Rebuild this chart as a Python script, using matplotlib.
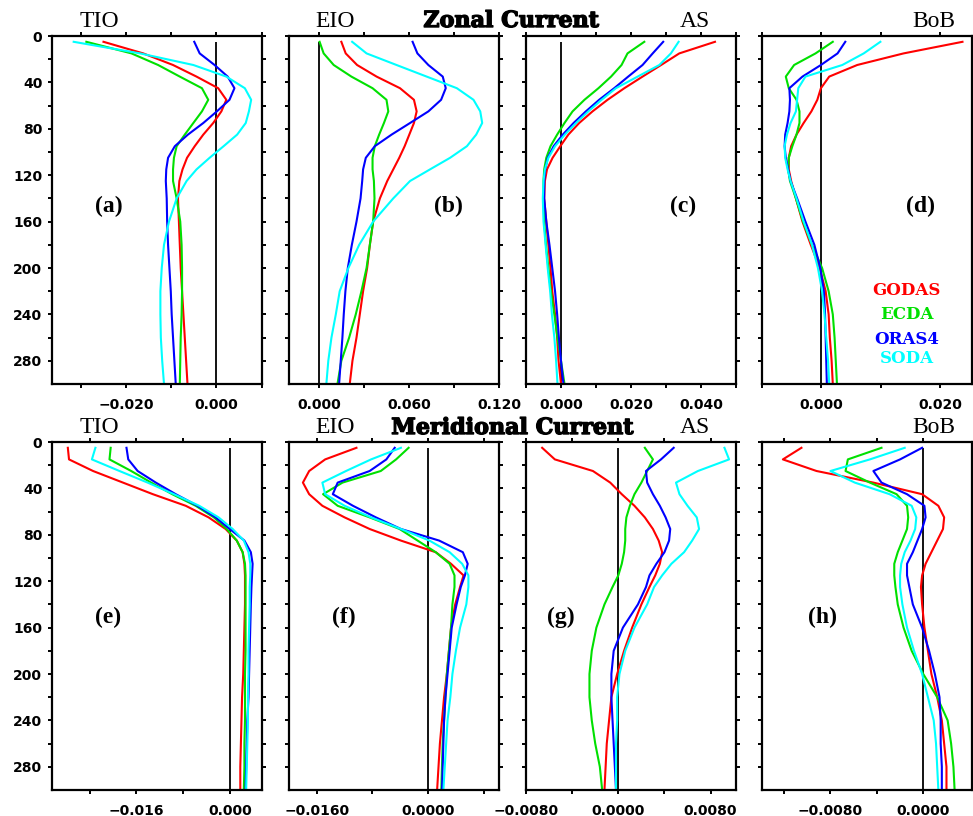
import matplotlib
matplotlib.use("Agg")
import matplotlib.pyplot as plt
import matplotlib.patheffects as pe
import numpy as np

# Depth levels (m)
depth = [5, 15, 25, 35, 45, 55, 65, 75, 85, 95, 105, 115, 125,
         140, 160, 180, 200, 220, 240, 260, 280, 300]

products = ["GODAS", "ECDA", "ORAS4", "SODA"]
colors = ["#ff0000", "#00e000", "#0000ff", "#00ffff"]

# ---- Zonal current ----
u_tio_godas = [-0.0250, -0.0162, -0.0096, -0.0044, 0.0004, 0.0022, 0.0011, -0.0007, -0.0029, -0.0048, -0.0065,
               -0.0075, -0.0082, -0.0085, -0.0083, -0.0081, -0.0079, -0.0076, -0.0073, -0.0070, -0.0067, -0.0064]
u_tio_ecda = [-0.0288, -0.0188, -0.0129, -0.0081, -0.0032, -0.0018, -0.0032, -0.0051, -0.0070, -0.0088, -0.0094,
              -0.0096, -0.0096, -0.0088, -0.0080, -0.0077, -0.0076, -0.0076, -0.0077, -0.0079, -0.0080, -0.0081]
u_tio_oras4 = [-0.0049, -0.0037, -0.0004, 0.0025, 0.0040, 0.0029, 0.0001, -0.0029, -0.0063, -0.0092, -0.0107,
               -0.0111, -0.0112, -0.0110, -0.0109, -0.0107, -0.0104, -0.0101, -0.0099, -0.0096, -0.0093, -0.0090]
u_tio_soda = [-0.0316, -0.0169, -0.0051, 0.0022, 0.0063, 0.0077, 0.0072, 0.0065, 0.0046, 0.0016, -0.0015,
              -0.0044, -0.0066, -0.0088, -0.0105, -0.0116, -0.0121, -0.0124, -0.0124, -0.0123, -0.0120, -0.0116]

u_eio_godas = [0.0149, 0.0178, 0.0254, 0.0384, 0.0540, 0.0633, 0.0651, 0.0633, 0.0602, 0.0571, 0.0535,
               0.0495, 0.0455, 0.0406, 0.0361, 0.0339, 0.0321, 0.0294, 0.0272, 0.0250, 0.0223, 0.0205]
u_eio_ecda = [0.0004, 0.0031, 0.0098, 0.0216, 0.0357, 0.0450, 0.0462, 0.0433, 0.0401, 0.0372, 0.0357,
              0.0357, 0.0366, 0.0370, 0.0361, 0.0339, 0.0317, 0.0283, 0.0245, 0.0201, 0.0149, 0.0123]
u_eio_oras4 = [0.0624, 0.0656, 0.0729, 0.0825, 0.0845, 0.0814, 0.0729, 0.0607, 0.0484, 0.0372, 0.0312,
               0.0294, 0.0288, 0.0277, 0.0250, 0.0219, 0.0192, 0.0176, 0.0165, 0.0156, 0.0145, 0.0134]
u_eio_soda = [0.0221, 0.0317, 0.0517, 0.0718, 0.0919, 0.1030, 0.1075, 0.1088, 0.1048, 0.0986, 0.0874,
              0.0740, 0.0607, 0.0495, 0.0361, 0.0268, 0.0196, 0.0138, 0.0112, 0.0083, 0.0062, 0.0049]

u_as_godas = [0.0440, 0.0338, 0.0286, 0.0233, 0.0181, 0.0133, 0.0090, 0.0052, 0.0021, -0.0002, -0.0024,
              -0.0040, -0.0046, -0.0048, -0.0042, -0.0036, -0.0030, -0.0025, -0.0017, -0.0011, -0.0007, 0.0000]
u_as_ecda = [0.0238, 0.0190, 0.0173, 0.0143, 0.0107, 0.0067, 0.0033, 0.0010, -0.0011, -0.0030, -0.0042,
             -0.0048, -0.0050, -0.0050, -0.0048, -0.0043, -0.0036, -0.0029, -0.0019, -0.0010, 0.0000, 0.0010]
u_as_oras4 = [0.0292, 0.0262, 0.0233, 0.0192, 0.0152, 0.0109, 0.0071, 0.0036, 0.0005, -0.0021, -0.0038,
              -0.0045, -0.0048, -0.0048, -0.0042, -0.0033, -0.0025, -0.0017, -0.0011, -0.0006, 0.0000, 0.0007]
u_as_soda = [0.0336, 0.0314, 0.0281, 0.0219, 0.0157, 0.0116, 0.0078, 0.0043, 0.0011, -0.0017, -0.0036,
             -0.0046, -0.0050, -0.0052, -0.0050, -0.0044, -0.0038, -0.0031, -0.0026, -0.0019, -0.0014, -0.0010]

u_bob_godas = [0.0237, 0.0138, 0.0060, 0.0013, -0.0001, -0.0007, -0.0017, -0.0030, -0.0042, -0.0051, -0.0055,
               -0.0055, -0.0051, -0.0043, -0.0032, -0.0018, -0.0003, 0.0007, 0.0012, 0.0014, 0.0017, 0.0019]
u_bob_ecda = [0.0019, -0.0010, -0.0046, -0.0060, -0.0055, -0.0042, -0.0037, -0.0037, -0.0042, -0.0049, -0.0055,
              -0.0056, -0.0053, -0.0043, -0.0031, -0.0016, 0.0001, 0.0012, 0.0019, 0.0022, 0.0024, 0.0026]
u_bob_oras4 = [0.0040, 0.0027, -0.0001, -0.0032, -0.0054, -0.0053, -0.0054, -0.0057, -0.0061, -0.0062, -0.0060,
               -0.0056, -0.0052, -0.0041, -0.0027, -0.0012, -0.0002, 0.0004, 0.0006, 0.0007, 0.0008, 0.0009]
u_bob_soda = [0.0099, 0.0071, 0.0035, -0.0027, -0.0039, -0.0041, -0.0043, -0.0052, -0.0058, -0.0062, -0.0061,
              -0.0057, -0.0052, -0.0042, -0.0030, -0.0016, -0.0006, 0.0001, 0.0005, 0.0008, 0.0011, 0.0013]

# ---- Meridional current ----
v_tio_godas = [-0.0277, -0.0275, -0.0234, -0.0183, -0.0132, -0.0076, -0.0037, -0.0008, 0.0011, 0.0021, 0.0024,
               0.0025, 0.0025, 0.0025, 0.0024, 0.0023, 0.0022, 0.0020, 0.0019, 0.0018, 0.0017, 0.0017]
v_tio_ecda = [-0.0204, -0.0206, -0.0169, -0.0135, -0.0099, -0.0059, -0.0028, -0.0006, 0.0011, 0.0021, 0.0025,
              0.0026, 0.0026, 0.0026, 0.0026, 0.0026, 0.0025, 0.0025, 0.0025, 0.0024, 0.0024, 0.0023]
v_tio_oras4 = [-0.0177, -0.0174, -0.0158, -0.0127, -0.0093, -0.0056, -0.0025, -0.0001, 0.0024, 0.0035, 0.0038,
               0.0037, 0.0036, 0.0035, 0.0034, 0.0033, 0.0032, 0.0031, 0.0029, 0.0028, 0.0027, 0.0026]
v_tio_soda = [-0.0230, -0.0236, -0.0189, -0.0141, -0.0096, -0.0053, -0.0020, 0.0004, 0.0023, 0.0031, 0.0034,
              0.0034, 0.0033, 0.0033, 0.0032, 0.0031, 0.0031, 0.0030, 0.0030, 0.0029, 0.0028, 0.0027]

v_eio_godas = [-0.0103, -0.0148, -0.0171, -0.0180, -0.0171, -0.0152, -0.0120, -0.0084, -0.0039, 0.0011, 0.0033,
               0.0051, 0.0046, 0.0039, 0.0033, 0.0030, 0.0027, 0.0023, 0.0020, 0.0017, 0.0015, 0.0013]
v_eio_ecda = [-0.0028, -0.0046, -0.0068, -0.0123, -0.0151, -0.0130, -0.0084, -0.0041, -0.0015, 0.0011, 0.0031,
              0.0038, 0.0038, 0.0035, 0.0033, 0.0030, 0.0027, 0.0025, 0.0023, 0.0021, 0.0020, 0.0019]
v_eio_oras4 = [-0.0048, -0.0060, -0.0084, -0.0130, -0.0137, -0.0108, -0.0075, -0.0039, 0.0016, 0.0050, 0.0057,
               0.0053, 0.0047, 0.0041, 0.0034, 0.0031, 0.0028, 0.0025, 0.0023, 0.0022, 0.0021, 0.0020]
v_eio_soda = [-0.0039, -0.0082, -0.0118, -0.0152, -0.0148, -0.0120, -0.0082, -0.0039, 0.0002, 0.0031, 0.0049,
              0.0058, 0.0058, 0.0055, 0.0046, 0.0040, 0.0035, 0.0032, 0.0028, 0.0026, 0.0024, 0.0022]

v_as_godas = [-0.0066, -0.0055, -0.0022, -0.0007, 0.0003, 0.0014, 0.0023, 0.0030, 0.0035, 0.0038, 0.0036,
              0.0032, 0.0027, 0.0020, 0.0012, 0.0005, -0.0001, -0.0006, -0.0008, -0.0010, -0.0011, -0.0012]
v_as_ecda = [0.0023, 0.0030, 0.0025, 0.0020, 0.0014, 0.0010, 0.0007, 0.0006, 0.0006, 0.0005, 0.0003,
             0.0000, -0.0005, -0.0012, -0.0019, -0.0023, -0.0025, -0.0025, -0.0023, -0.0020, -0.0016, -0.0014]
v_as_oras4 = [0.0048, 0.0037, 0.0024, 0.0025, 0.0030, 0.0036, 0.0041, 0.0045, 0.0044, 0.0040, 0.0033,
              0.0027, 0.0024, 0.0017, 0.0004, -0.0004, -0.0006, -0.0006, -0.0005, -0.0004, -0.0003, -0.0002]
v_as_soda = [0.0092, 0.0096, 0.0069, 0.0050, 0.0053, 0.0060, 0.0068, 0.0070, 0.0064, 0.0057, 0.0046,
             0.0038, 0.0031, 0.0025, 0.0014, 0.0006, 0.0001, -0.0001, -0.0001, -0.0002, -0.0002, -0.0002]

v_bob_godas = [-0.0105, -0.0121, -0.0092, -0.0043, -0.0001, 0.0013, 0.0018, 0.0017, 0.0012, 0.0007, 0.0002,
               -0.0001, -0.0002, -0.0001, 0.0001, 0.0004, 0.0007, 0.0012, 0.0016, 0.0018, 0.0020, 0.0020]
v_bob_ecda = [-0.0036, -0.0065, -0.0067, -0.0046, -0.0023, -0.0014, -0.0013, -0.0014, -0.0018, -0.0022, -0.0025,
              -0.0025, -0.0024, -0.0022, -0.0017, -0.0010, 0.0000, 0.0012, 0.0021, 0.0024, 0.0026, 0.0027]
v_bob_oras4 = [-0.0001, -0.0020, -0.0043, -0.0036, -0.0014, 0.0001, 0.0002, -0.0001, -0.0005, -0.0009, -0.0014,
               -0.0014, -0.0012, -0.0009, -0.0001, 0.0005, 0.0010, 0.0014, 0.0015, 0.0015, 0.0016, 0.0016]
v_bob_soda = [-0.0016, -0.0046, -0.0080, -0.0059, -0.0029, -0.0010, -0.0006, -0.0007, -0.0011, -0.0016, -0.0019,
              -0.0020, -0.0020, -0.0018, -0.0014, -0.0008, -0.0001, 0.0004, 0.0009, 0.0011, 0.0012, 0.0013]

regions = ["TIO", "EIO", "AS", "BoB"]
letters = ["(a)", "(b)", "(c)", "(d)", "(e)", "(f)", "(g)", "(h)"]

zonal = [
    [u_tio_godas, u_tio_ecda, u_tio_oras4, u_tio_soda],
    [u_eio_godas, u_eio_ecda, u_eio_oras4, u_eio_soda],
    [u_as_godas, u_as_ecda, u_as_oras4, u_as_soda],
    [u_bob_godas, u_bob_ecda, u_bob_oras4, u_bob_soda],
]
meridional = [
    [v_tio_godas, v_tio_ecda, v_tio_oras4, v_tio_soda],
    [v_eio_godas, v_eio_ecda, v_eio_oras4, v_eio_soda],
    [v_as_godas, v_as_ecda, v_as_oras4, v_as_soda],
    [v_bob_godas, v_bob_ecda, v_bob_oras4, v_bob_soda],
]

# x limits, tick positions and labelled ticks for each panel
xlims = [(-0.0364, 0.0101), (-0.020, 0.120), (-0.010, 0.050), (-0.0099, 0.0253),
         (-0.0304, 0.0054), (-0.0200, 0.0102), (-0.0080, 0.0102), (-0.0139, 0.0042)]
xticks = [[-0.03, -0.02, -0.01, 0.0, 0.01],
          [0.0, 0.03, 0.06, 0.09, 0.12],
          [-0.01, 0.0, 0.01, 0.02, 0.03, 0.04, 0.05],
          [-0.01, 0.0, 0.01, 0.02],
          [-0.024, -0.016, -0.008, 0.0],
          [-0.016, -0.008, 0.0, 0.008],
          [-0.008, -0.004, 0.0, 0.004, 0.008],
          [-0.012, -0.008, -0.004, 0.0]]
xlabels = [{-0.02: "\u22120.020", 0.0: "0.000"},
           {0.0: "0.000", 0.06: "0.060", 0.12: "0.120"},
           {0.0: "0.000", 0.02: "0.020", 0.04: "0.040"},
           {0.0: "0.000", 0.02: "0.020"},
           {-0.016: "\u22120.016", 0.0: "0.000"},
           {-0.016: "\u22120.0160", 0.0: "0.0000"},
           {-0.008: "\u22120.0080", 0.0: "0.0000", 0.008: "0.0080"},
           {-0.008: "\u22120.0080", 0.0: "0.0000"}]

W, H = 973, 816
fig = plt.figure(figsize=(W / 100, H / 100), dpi=100)

col_left = [52, 289, 526, 762]
row_top = [36, 442]
ax_w, ax_h = 210, 348

title_pos = [(0.129, "left"), (0.124, "left"), (0.876, "right"), (0.919, "right")]
letter_x = [0.27, 0.757, 0.748, 0.757, 0.265, 0.26, 0.167, 0.29]
letter_y = [0.509, 0.497]
legend_y = [0.269, 0.201, 0.129, 0.072]

tick_font = dict(family="DejaVu Sans", weight="bold", size=10)

for r, dataset in enumerate([zonal, meridional]):
    for c in range(4):
        k = r * 4 + c
        ax = fig.add_axes([col_left[c] / W, 1 - (row_top[r] + ax_h) / H, ax_w / W, ax_h / H])
        for series, col in zip(dataset[c], colors):
            ax.plot(series, depth, color=col, lw=1.5, solid_joinstyle="round")
        ax.vlines(0, 5, 300, color="black", lw=1.3, zorder=1)
        ax.set_xlim(*xlims[k])
        ax.set_ylim(300, 0)

        ax.set_xticks(xticks[k])
        ax.set_xticklabels([xlabels[k].get(round(t, 4), "") for t in xticks[k]], fontdict=tick_font)
        ax.set_yticks(np.arange(0, 281, 40))
        ax.set_yticks(np.arange(20, 300, 40), minor=True)
        if c == 0:
            ax.set_yticklabels([str(v) for v in range(0, 281, 40)], fontdict=tick_font)
        else:
            ax.set_yticklabels([])
        ax.tick_params(which="both", direction="out", length=3, width=1.4,
                       top=True, right=True, labeltop=False, labelright=False)
        ax.tick_params(axis="x", pad=7)
        ax.tick_params(axis="y", pad=4)
        for sp in ax.spines.values():
            sp.set_linewidth(1.6)

        x_t, ha = title_pos[c]
        ax.text(x_t, 1.042, regions[c], transform=ax.transAxes, ha=ha,
                va="center", family="Liberation Serif", fontsize=17)
        ax.text(letter_x[k], letter_y[r], letters[k], transform=ax.transAxes, ha="center",
                va="center", family="Liberation Serif", weight="bold", fontsize=17)

        if r == 0 and c == 3:
            for lab, col, yy in zip(products, colors, legend_y):
                ax.text(0.69, yy, lab, transform=ax.transAxes,
                        ha="center", va="center", color=col, family="DejaVu Serif",
                        weight="bold", fontsize=12)

heavy = [pe.withStroke(linewidth=1.0, foreground="black")]
fig.text(511 / W, 1 - 21 / H, "Zonal Current", ha="center", va="center",
         family="DejaVu Serif", weight="bold", fontsize=16, path_effects=heavy)
fig.text(512 / W, 1 - 428 / H, "Meridional Current", ha="center", va="center",
         family="DejaVu Serif", weight="bold", fontsize=16, path_effects=heavy)

fig.savefig("out.png", dpi=100)
